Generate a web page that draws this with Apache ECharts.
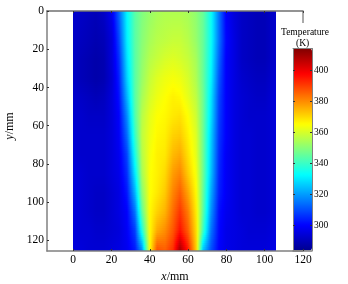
<!DOCTYPE html>
<html><head><meta charset="utf-8">
<style>html,body{margin:0;padding:0;background:#fff}#c{width:348px;height:284px}</style>
<script src="https://cdn.jsdelivr.net/npm/echarts@6/dist/echarts.min.js"></script>
</head><body><div id="c"></div>
<script>
const xNodes = [0,4,8,12,16,20,24,28,32,36,40,44,48,52,56,60,64,68,72,76,80,84,88,92,96,100,104,106];
const yNodes = [0,15,25,35,45,55,65,75,85,95,105,115,125.5];
const temps = [
[293,292,291,290,292,298,313,332,344,349,352,354,355,355,355,354,351,346,334,315,300,295,292,291,290,290,292,293],
[292,291,290,289,290,295,309,331,344,350,354,356,357,358,358,356,352,346,334,315,301,296,292,291,290,290,292,293],
[292,290,289,288,289,295,306,329,344,351,356,358,360,361,360,358,354,346,333,313,300,296,292,291,290,290,292,293],
[292,290,289,288,289,294,304,327,344,352,358,361,363,364,363,360,355,346,332,311,300,296,293,292,291,291,293,294],
[293,292,291,290,291,295,302,323,344,354,360,363,365,367,366,362,357,347,330,309,300,296,294,293,292,292,294,295],
[293,293,292,292,292,295,300,318,343,356,362,365,366,368,369,365,359,347,329,308,300,296,294,293,293,293,294,295],
[294,293,293,293,293,295,299,314,340,357,363,366,367,371,372,367,361,347,327,307,300,296,294,294,293,293,294,295],
[294,293,293,293,293,295,298,309,336,356,364,367,368,374,376,369,362,347,326,306,299,296,294,294,293,293,294,295],
[295,294,293,293,293,295,297,306,330,354,365,367,370,378,381,372,364,347,325,305,299,296,294,294,293,293,294,295],
[295,294,293,292,292,294,296,303,323,350,365,368,372,381,386,377,366,346,322,304,299,296,294,294,293,293,294,295],
[295,294,293,292,292,294,296,300,315,345,366,371,375,384,391,382,368,345,319,302,298,296,294,294,293,293,294,295],
[295,294,294,293,293,294,295,299,308,336,366,376,380,387,396,386,370,341,315,301,297,296,295,294,294,294,295,296],
[295,295,294,294,294,295,296,298,303,318,366,388,386,392,410,395,372,325,310,300,297,296,295,295,295,295,296,297]
];
const xTicks = [0,20,40,60,80,100,120];
const barTicks = [300,320,340,360,380,400];
const jet = ['#00008f','#0000ff','#0080ff','#00ffff','#80ff80','#ffff00','#ff8000','#ff0000','#800000'];
const tMin = 284, tMax = 414;
const FONT = '"Liberation Serif","Times New Roman",serif';

const cells = [];
for (let j = 0; j < yNodes.length - 1; j++) {
  for (let i = 0; i < xNodes.length - 1; i++) {
    cells.push([xNodes[i], xNodes[i+1], yNodes[j], yNodes[j+1],
      temps[j][i], temps[j][i+1], temps[j+1][i], temps[j+1][i+1]]);
  }
}
const col = v => echarts.color.lerp(Math.min(1, Math.max(0, (v - tMin) / (tMax - tMin))), jet);

function renderCell(params, api) {
  const x0 = api.value(0), x1 = api.value(1), y0 = api.value(2), y1 = api.value(3);
  const a = api.value(4), b = api.value(5), c = api.value(6), d = api.value(7);
  const p0 = api.coord([x0, y0]), p1 = api.coord([x1, y1]);
  const left = Math.round(p0[0]), right = Math.round(p1[0]);
  const top = Math.round(p0[1]), bottom = Math.round(p1[1]);
  const rows = Math.max(1, bottom - top), STOPS = 5, children = [];
  const STEP = 2;
  for (let py = top; py < top + rows; py += STEP) {
    const f = Math.min(1, (py + STEP / 2 - top) / rows);
    const l = a + (c - a) * f, r = b + (d - b) * f;
    const stops = [];
    for (let k = 0; k < STOPS; k++) {
      const o = k / (STOPS - 1);
      stops.push({ offset: o, color: col(l + (r - l) * o) });
    }
    children.push({
      type: 'rect',
      shape: { x: left, y: py, width: right - left, height: Math.min(STEP, top + rows - py) },
      style: { fill: new echarts.graphic.LinearGradient(0, 0, 1, 0, stops) },
      silent: true
    });
  }
  return { type: 'group', children };
}

const textStyle = { color: '#000', fontFamily: FONT };
const lineGrey = { show: true, onZero: false, lineStyle: { color: '#808080', width: 1.5 } };
const chart = echarts.init(document.getElementById('c'), null, { renderer: 'canvas' });
chart.setOption({
  animation: false,
  backgroundColor: '#fff',
  textStyle,
  grid: [
    { left: 47, top: 11, width: 256, height: 240, outerBoundsMode: 'none', containLabel: false },
    { left: 293, top: 48.5, width: 19, height: 202, outerBoundsMode: 'none', containLabel: false }
  ],
  xAxis: [
    { gridIndex: 0, type: 'value', position: 'bottom', min: -13.7, max: 120, z: 5,
      axisLine: lineGrey, splitLine: { show: false },
      axisTick: { show: true, inside: true, length: 2, customValues: xTicks, lineStyle: { color: '#333' } },
      axisLabel: { customValues: xTicks, fontSize: 11.5, margin: 3, color: '#000', fontFamily: FONT },
      name: '{i|x}/mm', nameLocation: 'middle', nameGap: 15,
      nameTextStyle: { color: '#000', fontFamily: FONT, fontSize: 12,
        rich: { i: { fontStyle: 'italic', fontFamily: FONT, fontSize: 12, color: '#000' } } } },
    { gridIndex: 0, type: 'value', position: 'top', min: -13.7, max: 120, z: 5,
      axisLine: { show: true, onZero: false, lineStyle: { color: '#707070', width: 1.5 } }, splitLine: { show: false },
      axisTick: { show: true, inside: true, length: 2, customValues: xTicks, lineStyle: { color: '#333' } },
      axisLabel: { show: false } },
    { gridIndex: 1, type: 'value', position: 'bottom', min: 0, max: 1, z: 5,
      axisLine: { show: true, onZero: false, lineStyle: { color: '#808080', width: 1.5 } },
      axisTick: { show: false }, axisLabel: { show: false }, splitLine: { show: false } },
    { gridIndex: 1, type: 'value', position: 'top', min: 0, max: 1, z: 5,
      axisLine: { show: true, onZero: false, lineStyle: { color: '#808080', width: 1 } },
      axisTick: { show: false }, axisLabel: { show: false }, splitLine: { show: false } }
  ],
  yAxis: [
    { gridIndex: 0, type: 'value', position: 'left', inverse: true, min: 0, max: 125.5, interval: 20, z: 5,
      axisLine: lineGrey, splitLine: { show: false },
      axisTick: { show: true, inside: true, length: 2, lineStyle: { color: '#333' } },
      axisLabel: { fontSize: 11.5, margin: 3, color: '#000', fontFamily: FONT, showMaxLabel: false },
      name: '{i|y}/mm', nameLocation: 'middle', nameGap: 22, nameRotate: 90,
      nameTextStyle: { color: '#000', fontFamily: FONT, fontSize: 12, padding: [0, 0, 0, 10],
        rich: { i: { fontStyle: 'italic', fontFamily: FONT, fontSize: 12, color: '#000' } } } },
    { gridIndex: 1, type: 'value', position: 'right', min: tMin, max: tMax, z: 5,
      axisLine: { show: true, onZero: false, lineStyle: { color: '#808080', width: 1 } }, splitLine: { show: false },
      axisTick: { show: true, inside: true, length: 2, customValues: barTicks, lineStyle: { color: '#333' } },
      axisLabel: { customValues: barTicks, fontSize: 9.5, margin: 2, color: '#000', fontFamily: FONT } },
    { gridIndex: 1, type: 'value', position: 'left', min: tMin, max: tMax, z: 5,
      axisLine: { show: true, onZero: false, lineStyle: { color: '#808080', width: 1 } }, splitLine: { show: false },
      axisTick: { show: true, inside: true, length: 2, customValues: barTicks, lineStyle: { color: '#333' } },
      axisLabel: { show: false } }
  ],
  visualMap: {
    type: 'continuous', min: tMin, max: tMax, dimension: 4, seriesIndex: 0,
    orient: 'vertical', left: 293, top: 48.5, itemWidth: 19, itemHeight: 202,
    calculable: false, realtime: false, hoverLink: false, text: ['', ''], showLabel: false, padding: 0,
    inRange: { color: jet }
  },
  series: [{
    type: 'custom', coordinateSystem: 'cartesian2d', xAxisIndex: 0, yAxisIndex: 0,
    renderItem: renderCell, data: cells, clip: true, silent: true, z: 2,
    encode: { x: [0, 1], y: [2, 3] }
  }],
  graphic: [
    { type: 'text', silent: true, z: 10, left: 281, top: 27,
      style: { text: 'Temperature', font: '9.5px ' + FONT, fill: '#000' } },
    { type: 'text', silent: true, z: 10, left: 296, top: 38,
      style: { text: '(K)', font: '9.5px ' + FONT, fill: '#000' } },
    { type: 'line', silent: true, z: 10, shape: { x1: 303, y1: 11, x2: 303, y2: 23 },
      style: { stroke: '#555', lineWidth: 1 } }
  ]
});
</script></body></html>
